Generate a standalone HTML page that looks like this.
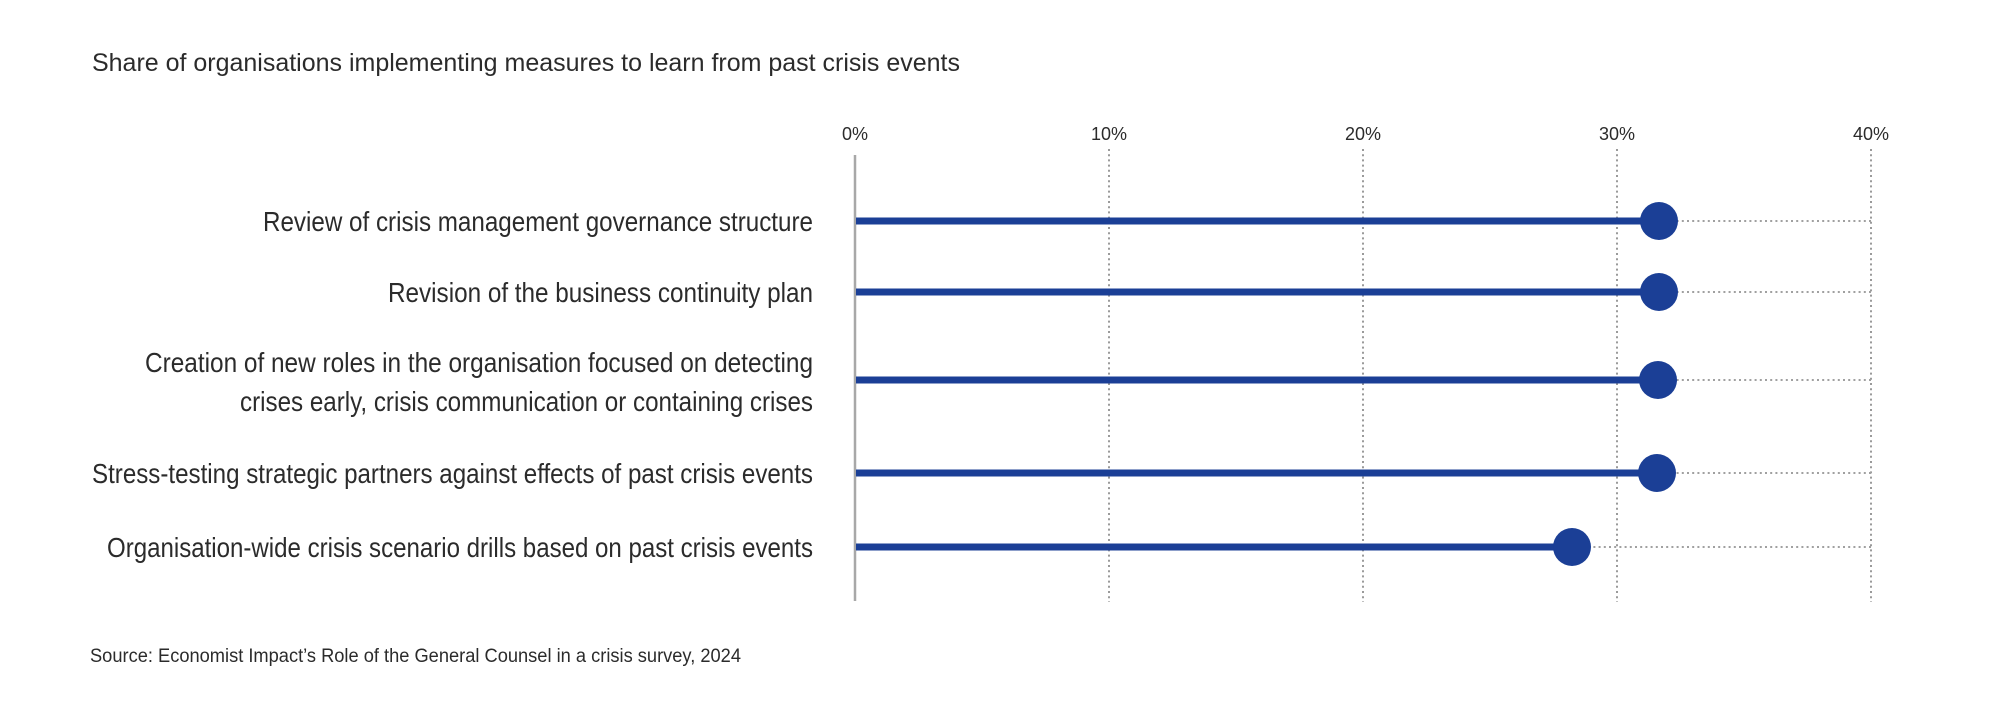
<!DOCTYPE html>
<html>
<head>
<meta charset="utf-8">
<style>
  html, body { margin:0; padding:0; background:#ffffff; }
  svg { display:block; }
  text { font-family: "Liberation Sans", "DejaVu Sans", sans-serif; fill:#2b2b2b; }
</style>
</head>
<body>
<svg width="2000" height="709" viewBox="0 0 2000 709" xmlns="http://www.w3.org/2000/svg">
  <rect x="0" y="0" width="2000" height="709" fill="#ffffff"/>

  <!-- Title -->
  <text x="92" y="71" font-size="25" textLength="868" lengthAdjust="spacingAndGlyphs">Share of organisations implementing measures to learn from past crisis events</text>

  <!-- Tick labels -->
  <g font-size="18" text-anchor="middle" fill="#333">
    <text x="855" y="140">0%</text>
    <text x="1109" y="140">10%</text>
    <text x="1363" y="140">20%</text>
    <text x="1617" y="140">30%</text>
    <text x="1871" y="140">40%</text>
  </g>

  <!-- Vertical dotted gridlines -->
  <g stroke="#9a9a9a" stroke-width="2" stroke-dasharray="2 3.2" fill="none">
    <line x1="1109" y1="149" x2="1109" y2="602"/>
    <line x1="1363" y1="149" x2="1363" y2="602"/>
    <line x1="1617" y1="149" x2="1617" y2="602"/>
    <line x1="1871" y1="149" x2="1871" y2="602"/>
  </g>

  <!-- Horizontal dotted row guides -->
  <g stroke="#a0a0a0" stroke-width="2" stroke-dasharray="2 3.2" fill="none">
    <line x1="855" y1="221" x2="1871" y2="221"/>
    <line x1="855" y1="292" x2="1871" y2="292"/>
    <line x1="855" y1="380" x2="1871" y2="380"/>
    <line x1="855" y1="473" x2="1871" y2="473"/>
    <line x1="855" y1="547" x2="1871" y2="547"/>
  </g>

  <!-- Zero axis -->
  <line x1="855" y1="155" x2="855" y2="601" stroke="#a8a8a8" stroke-width="2.5"/>

  <!-- Lollipops -->
  <g stroke="#1b3f96" stroke-width="7" fill="none">
    <line x1="856" y1="221" x2="1659" y2="221"/>
    <line x1="856" y1="292" x2="1659" y2="292"/>
    <line x1="856" y1="380" x2="1658" y2="380"/>
    <line x1="856" y1="473" x2="1657" y2="473"/>
    <line x1="856" y1="547" x2="1572" y2="547"/>
  </g>
  <g fill="#1b3f96">
    <circle cx="1659" cy="221" r="19"/>
    <circle cx="1659" cy="292" r="19"/>
    <circle cx="1658" cy="380" r="19"/>
    <circle cx="1657" cy="473" r="19"/>
    <circle cx="1572" cy="547" r="19"/>
  </g>

  <!-- Category labels -->
  <g font-size="28" text-anchor="end" fill="#2b2b2b">
    <text x="813" y="231" textLength="550" lengthAdjust="spacingAndGlyphs">Review of crisis management governance structure</text>
    <text x="813" y="302" textLength="425" lengthAdjust="spacingAndGlyphs">Revision of the business continuity plan</text>
    <text x="813" y="372" textLength="668" lengthAdjust="spacingAndGlyphs">Creation of new roles in the organisation focused on detecting</text>
    <text x="813" y="411" textLength="573" lengthAdjust="spacingAndGlyphs">crises early, crisis communication or containing crises</text>
    <text x="813" y="483" textLength="721" lengthAdjust="spacingAndGlyphs">Stress-testing strategic partners against effects of past crisis events</text>
    <text x="813" y="557" textLength="706" lengthAdjust="spacingAndGlyphs">Organisation-wide crisis scenario drills based on past crisis events</text>
  </g>

  <!-- Source -->
  <text x="90" y="662" font-size="19" textLength="651" lengthAdjust="spacingAndGlyphs" fill="#333">Source: Economist Impact’s Role of the General Counsel in a crisis survey, 2024</text>
</svg>
</body>
</html>
